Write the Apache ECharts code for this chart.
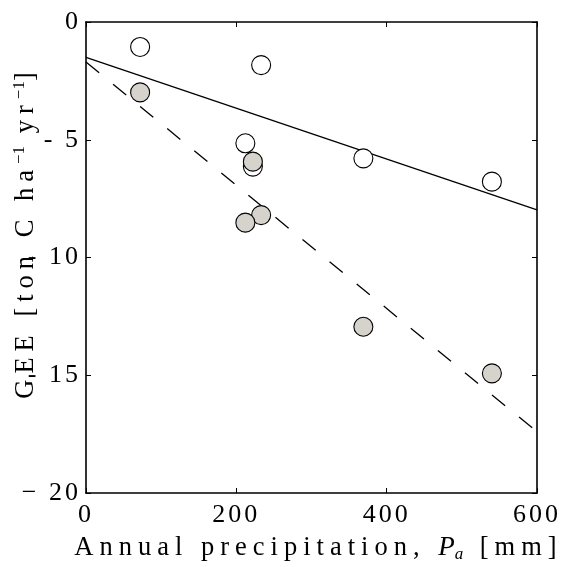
<!DOCTYPE html>
<html>
<head>
<meta charset="utf-8">
<script src="https://cdn.jsdelivr.net/npm/echarts@6/dist/echarts.min.js"></script>
<style>
  html, body { margin: 0; padding: 0; background: #fff; }
  #chart { width: 571px; height: 567px; }
</style>
</head>
<body>
<div id="chart"></div>
<script>
// Open circles (white)
const openX = [72, 233, 212, 222, 369, 540];
const openY = [-1.06, -1.83, -5.15, -6.14, -5.79, -6.78];
// Filled circles (grey)
const filledX = [72, 222, 233, 212, 369, 540];
const filledY = [-2.99, -5.93, -8.2, -8.52, -12.94, -14.92];
// Fit lines (endpoints)
const solidLineX = [0, 600];
const solidLineY = [-1.5, -7.98];
const dashedLineX = [0, 600];
const dashedLineY = [-1.7, -17.4];
// Tick labels
const xTickValues = [0, 200, 400, 600];
const yTickValues = [0, -5, -10, -15, -20];
const yTickLabels = ['0', '- 5', '- 10', '- 15', '\u2212 20'];

const zip = (xs, ys) => xs.map((x, i) => [x, ys[i]]);
const serif = 'Liberation Serif';

// letter spacing by font size (mimics the spaced TeX look)
function spacingFor(font) {
  const m = /(\d+(?:\.\d+)?)px/.exec(font || '');
  const s = m ? parseFloat(m[1]) : 0;
  if (s === 26.5) return '6px';
  if (s === 26) return '3px';
  return '0px';
}
const P = CanvasRenderingContext2D.prototype;
const origFill = P.fillText, origMeasure = P.measureText, origStroke = P.strokeText;
P.fillText = function () { this.letterSpacing = spacingFor(this.font); return origFill.apply(this, arguments); };
P.strokeText = function () { this.letterSpacing = spacingFor(this.font); return origStroke.apply(this, arguments); };
P.measureText = function () { this.letterSpacing = spacingFor(this.font); return origMeasure.apply(this, arguments); };

const chart = echarts.init(document.getElementById('chart'), null, { renderer: 'canvas' });
const axisLine = { show: true, onZero: false, lineStyle: { color: '#000', width: 1.6 } };
const tickStyle = { show: true, inside: true, length: 5, lineStyle: { color: '#000', width: 1 } };

chart.setOption({
  animation: false,
  backgroundColor: '#fff',
  grid: { left: 86, right: 34, top: 22, bottom: 74, containLabel: false, outerBoundsMode: 'none' },
  xAxis: [{
    type: 'value', min: 0, max: 600, interval: 200, position: 'bottom',
    axisLine: axisLine, axisTick: tickStyle, splitLine: { show: false },
    axisLabel: { color: '#000', fontFamily: serif, fontSize: 26, margin: 8,
      formatter: v => xTickValues.includes(v) ? String(v) : '' },
    name: '{t|Annual precipitation, }{i|P}{sub|a}{t| [mm]}',
    nameLocation: 'middle', nameGap: 40, nameMoveOverlap: false,
    nameTextStyle: { color: '#000', fontFamily: serif, fontSize: 26.5, padding: [0, 0, 0, 14],
      rich: {
        t: { fontFamily: serif, fontSize: 26.5, color: '#000', lineHeight: 30 },
        i: { fontFamily: serif, fontSize: 27, fontStyle: 'italic', color: '#000', lineHeight: 30 },
        sub: { fontFamily: serif, fontSize: 17, fontStyle: 'italic', color: '#000', verticalAlign: 'bottom', lineHeight: 14, padding: [0, 4, 0, 0] }
      } }
  }, {
    type: 'value', min: 0, max: 600, interval: 200, position: 'top',
    axisLine: axisLine, axisTick: tickStyle, splitLine: { show: false },
    axisLabel: { show: false }
  }],
  yAxis: [{
    type: 'value', min: -20, max: 0, interval: 5, position: 'left',
    axisLine: axisLine, axisTick: tickStyle, splitLine: { show: false },
    axisLabel: { color: '#000', fontFamily: serif, fontSize: 26, margin: 5,
      formatter: v => { const i = yTickValues.indexOf(v); return i >= 0 ? yTickLabels[i] : ''; } },
    name: '{t|GEE [ton C ha}{sup|\u22121}{t| yr}{sup|\u22121}{t|]}',
    nameLocation: 'middle', nameGap: 45, nameRotate: 90, nameMoveOverlap: false,
    nameTextStyle: { color: '#000', fontFamily: serif, fontSize: 26.5, padding: [0, 0, 0, 50],
      rich: {
        t: { fontFamily: serif, fontSize: 26.5, color: '#000', lineHeight: 30 },
        sup: { fontFamily: serif, fontSize: 17, color: '#000', verticalAlign: 'top', lineHeight: 16 }
      } }
  }, {
    type: 'value', min: -20, max: 0, interval: 5, position: 'right',
    axisLine: axisLine, axisTick: tickStyle, splitLine: { show: false },
    axisLabel: { show: false }
  }],
  series: [
    { type: 'line', data: zip(solidLineX, solidLineY), symbol: 'none', silent: true,
      lineStyle: { color: '#000', width: 1.3 }, z: 1 },
    { type: 'line', data: zip(dashedLineX, dashedLineY), symbol: 'none', silent: true,
      lineStyle: { color: '#000', width: 1.3, type: [17, 18] }, z: 1 },
    { type: 'scatter', data: zip(openX, openY), symbol: 'circle', symbolSize: 19,
      itemStyle: { color: '#fff', borderColor: '#000', borderWidth: 1.1, opacity: 1 }, z: 3 },
    { type: 'scatter', data: zip(filledX, filledY), symbol: 'circle', symbolSize: 19,
      itemStyle: { color: '#d6d3cc', borderColor: '#000', borderWidth: 1.1, opacity: 1 }, z: 4 }
  ]
});
</script>
</body>
</html>
